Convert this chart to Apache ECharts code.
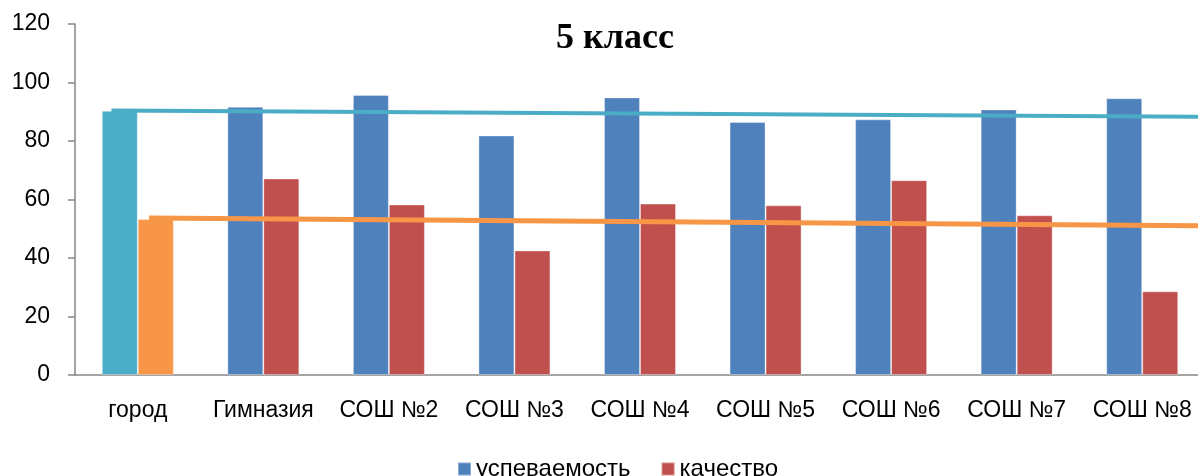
<!DOCTYPE html>
<html>
<head>
<meta charset="utf-8">
<script src="https://cdn.jsdelivr.net/npm/echarts@6/dist/echarts.min.js"></script>
<style>
  html, body { margin: 0; padding: 0; background: #fff; }
  #chart { width: 1198px; height: 476px; }
</style>
</head>
<body>
<div id="chart"></div>
<script>
  var categories = ['город', 'Гимназия', 'СОШ №2', 'СОШ №3', 'СОШ №4', 'СОШ №5', 'СОШ №6', 'СОШ №7', 'СОШ №8'];
  var uspevaemost = [90.3, 91.7, 95.7, 81.9, 94.9, 86.5, 87.4, 90.8, 94.6];
  var kachestvo = [53.3, 67.2, 58.3, 42.6, 58.6, 58.0, 66.6, 54.6, 28.6];
  // линии уровня города (x в долях категорий)
  var tealLine = [[0.29, 90.4], [9, 88.3]];
  var orangeLine = [[0.59, 53.7], [9, 51.0]];

  var chart = echarts.init(document.getElementById('chart'));

  var blueData = uspevaemost.map(function (v, i) {
    return i === 0 ? { value: v, itemStyle: { color: '#4BACC6' } } : v;
  });
  var redData = kachestvo.map(function (v, i) {
    return i === 0 ? { value: v, itemStyle: { color: '#F79646' } } : v;
  });

  chart.setOption({
    animation: false,
    title: {
      text: '5 класс',
      left: 610,
      textAlign: 'center',
      top: 16,
      textStyle: { fontFamily: 'Liberation Serif', fontWeight: 'bold', fontSize: 36, color: '#000' }
    },
    legend: {
      left: 452,
      top: 452,
      itemWidth: 13,
      itemHeight: 13,
      itemGap: 30,
      icon: 'rect',
      data: ['успеваемость', 'качество'],
      textStyle: { fontFamily: 'Liberation Sans', fontSize: 24, color: '#000' }
    },
    grid: { left: 75, right: -7, top: 24, bottom: 101, outerBoundsMode: 'none' },
    xAxis: [{
      type: 'category',
      data: categories,
      axisLine: { lineStyle: { color: '#868686', width: 1.5 } },
      axisTick: { length: 7, lineStyle: { color: '#868686', width: 1.5 } },
      axisLabel: { margin: 24, fontFamily: 'Liberation Sans', fontSize: 23, color: '#000', interval: 0 }
    }, {
      type: 'value',
      min: 0,
      max: 9,
      show: false
    }],
    yAxis: {
      type: 'value',
      min: 0,
      max: 120,
      interval: 20,
      splitLine: { show: false },
      axisLine: { show: true, lineStyle: { color: '#868686', width: 1.5 } },
      axisTick: { show: true, length: 7, lineStyle: { color: '#868686', width: 1.5 } },
      axisLabel: { margin: 25, fontFamily: 'Liberation Sans', fontSize: 23, color: '#000' }
    },
    series: [{
      name: 'успеваемость',
      type: 'bar',
      data: blueData,
      barWidth: 36,
      barGap: '0%',
      itemStyle: { color: '#4F81BD', borderColor: 'rgba(255,255,255,0.35)', borderWidth: 1 }
    }, {
      name: 'качество',
      type: 'bar',
      data: redData,
      barWidth: 36,
      barGap: '0%',
      itemStyle: { color: '#C0504D', borderColor: 'rgba(255,255,255,0.35)', borderWidth: 1 }
    }, {
      type: 'line',
      xAxisIndex: 1,
      data: tealLine,
      symbol: 'none',
      lineStyle: { color: '#4BACC6', width: 4 },
      z: 5
    }, {
      type: 'line',
      xAxisIndex: 1,
      data: orangeLine,
      symbol: 'none',
      lineStyle: { color: '#F79646', width: 5 },
      z: 5
    }]
  });
</script>
</body>
</html>
